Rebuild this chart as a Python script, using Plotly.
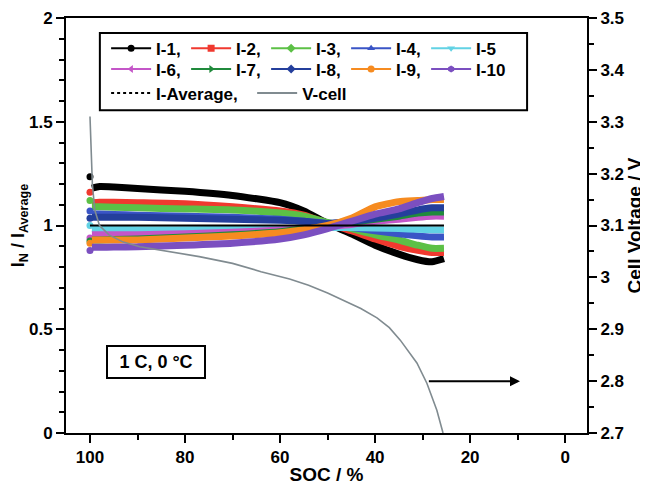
import plotly.graph_objects as go

# ---------------- data ----------------
soc = [100, 99.6, 98, 95, 90, 80, 70, 60, 55, 50, 45, 40, 35, 31, 28, 25.5]

i1 = [1.235, 1.18, 1.188, 1.186, 1.178, 1.165, 1.145, 1.11, 1.07, 1.01, 0.96, 0.905, 0.862, 0.835, 0.825, 0.84]
i2 = [1.16, 1.11, 1.112, 1.112, 1.11, 1.105, 1.09, 1.07, 1.05, 1.01, 0.975, 0.935, 0.90, 0.88, 0.87, 0.87]
i3 = [1.12, 1.09, 1.09, 1.088, 1.085, 1.08, 1.075, 1.06, 1.045, 1.015, 0.985, 0.955, 0.93, 0.905, 0.89, 0.89]
i4 = [1.07, 1.055, 1.055, 1.053, 1.05, 1.045, 1.04, 1.03, 1.02, 1.01, 0.99, 0.975, 0.96, 0.95, 0.945, 0.945]
i5 = [1.00, 0.985, 0.984, 0.982, 0.98, 0.98, 0.982, 0.985, 0.985, 0.99, 0.99, 0.988, 0.985, 0.982, 0.98, 0.98]
i6 = [0.94, 0.955, 0.955, 0.955, 0.955, 0.96, 0.968, 0.978, 0.985, 0.995, 1.005, 1.02, 1.03, 1.04, 1.045, 1.045]
i7 = [0.925, 0.93, 0.93, 0.932, 0.935, 0.945, 0.955, 0.97, 0.985, 1.0, 1.015, 1.03, 1.045, 1.06, 1.065, 1.065]
i8 = [1.035, 1.04, 1.04, 1.04, 1.04, 1.035, 1.03, 1.025, 1.02, 1.01, 1.02, 1.035, 1.055, 1.075, 1.085, 1.085]
i9 = [0.915, 0.93, 0.93, 0.93, 0.93, 0.94, 0.95, 0.965, 0.98, 1.0, 1.035, 1.09, 1.115, 1.12, 1.125, 1.125]
i10 = [0.88, 0.895, 0.895, 0.896, 0.897, 0.905, 0.915, 0.935, 0.955, 0.985, 1.02, 1.055, 1.08, 1.11, 1.13, 1.14]

soc_avg = [100, 25.5]
i_avg = [1.0, 1.0]

soc_v = [100, 99.8, 99.5, 99, 98, 96, 93, 89.5, 84, 77, 70, 64, 58, 54, 50,
         46.7, 43, 39.6, 37, 34.7, 33, 31.2, 29.1, 27, 25.7]
v_cell = [3.31, 3.25, 3.18, 3.13, 3.10, 3.082, 3.068, 3.059, 3.050, 3.040, 3.027, 3.011, 2.997, 2.985, 2.970,
          2.956, 2.940, 2.922, 2.903, 2.879, 2.858, 2.835, 2.796, 2.744, 2.70]

names = ["I-1,", "I-2,", "I-3,", "I-4,", "I-5", "I-6,", "I-7,", "I-8,", "I-9,", "I-10"]
series = [i1, i2, i3, i4, i5, i6, i7, i8, i9, i10]
colors = ["#000000", "#f0392f", "#5cc046", "#3a55c6", "#62d2e4",
          "#c456c8", "#208a3c", "#243f9c", "#f68b20", "#7b4fc0"]
symbols = ["circle", "square", "diamond", "triangle-up", "triangle-down",
           "triangle-left", "triangle-right", "diamond", "circle", "hexagon"]

FONT = "Liberation Sans, Arial, sans-serif"

fig = go.Figure()

for n, y, c in zip(names, series, colors):
    # the first reading (at 100 % SOC) is shown as a separate dot, the rest as a dense band
    fig.add_trace(go.Scatter(x=soc[1:], y=y[1:], mode="lines", showlegend=False,
                             line=dict(color=c, width=7, shape="spline", smoothing=0.5)))
    fig.add_trace(go.Scatter(x=soc[:1], y=y[:1], mode="markers", showlegend=False,
                             marker=dict(color=c, size=7, symbol="circle")))

fig.add_trace(go.Scatter(x=soc_avg, y=i_avg, mode="lines", showlegend=False,
                         line=dict(color="#000000", width=2)))
fig.add_trace(go.Scatter(x=soc_v, y=v_cell, mode="lines", showlegend=False, yaxis="y2",
                         line=dict(color="#808b90", width=1.6)))

# legend entries
for k, (n, c, s) in enumerate(zip(names, colors, symbols)):
    fig.add_trace(go.Scatter(x=[None], y=[None], mode="lines+markers", name=n,
                             legend="legend" if k < 5 else "legend2",
                             line=dict(color=c, width=2), marker=dict(symbol=s, size=7, color=c)))
fig.add_trace(go.Scatter(x=[None], y=[None], mode="lines", name="I-Average,\u00a0\u00a0", legend="legend3",
                         line=dict(color="#000000", width=2, dash="dot")))
fig.add_trace(go.Scatter(x=[None], y=[None], mode="lines", name="V-cell", legend="legend3",
                         line=dict(color="#808b90", width=2)))

leg_common = dict(orientation="h", xanchor="left", yanchor="middle", x=0.077,
                  font=dict(family=FONT, size=17, color="#000", weight="bold"),
                  bgcolor="rgba(0,0,0,0)", borderwidth=0, itemwidth=40,
                  itemclick=False, itemdoubleclick=False)

axis_font = dict(family=FONT, size=17, color="#000", weight="bold")
title_font = dict(family=FONT, size=18, color="#000", weight="bold")

fig.update_layout(
    width=640, height=477,
    margin=dict(l=58, r=61, t=10, b=52, autoexpand=False),
    paper_bgcolor="white", plot_bgcolor="white",
    showlegend=True,
    legend=dict(**leg_common, y=0.926, entrywidth=25),
    legend2=dict(**leg_common, y=0.876, entrywidth=25),
    legend3=dict(**leg_common, y=0.818),
    xaxis=dict(range=[105.05, -4.6], tickmode="linear", tick0=0, dtick=20, automargin=False,
               ticks="outside", ticklen=8, tickwidth=2, tickcolor="#000",
               showline=True, linewidth=2, linecolor="#000", mirror=True,
               showgrid=False, zeroline=False, tickfont=axis_font,
               title=dict(text="SOC / %", font=dict(family=FONT, size=19, color="#000", weight="bold"),
                          standoff=2),
               minor=dict(ticks="outside", ticklen=5, tickwidth=2, tickcolor="#000", dtick=10, tick0=0)),
    yaxis=dict(range=[0, 2], tickmode="linear", tick0=0, dtick=0.5, automargin=False,
               ticks="outside", ticklen=8, tickwidth=2, tickcolor="#000",
               showline=True, linewidth=2, linecolor="#000",
               showgrid=False, zeroline=False, tickfont=axis_font,
               title=dict(text="I<sub>N</sub> / I<sub>Average</sub>", font=title_font, standoff=6),
               minor=dict(ticks="outside", ticklen=5, tickwidth=2, tickcolor="#000", dtick=0.1, tick0=0)),
    yaxis2=dict(range=[2.7, 3.5], overlaying="y", side="right", tickmode="linear", tick0=2.7, dtick=0.1,
                automargin=False,
                ticks="outside", ticklen=8, tickwidth=2, tickcolor="#000",
                showline=True, linewidth=2, linecolor="#000",
                showgrid=False, zeroline=False, tickfont=axis_font,
                title=dict(text="Cell Voltage / V", font=dict(family=FONT, size=19, color="#000", weight="bold"),
                           standoff=1),
                minor=dict(ticks="outside", ticklen=5, tickwidth=2, tickcolor="#000", dtick=0.05, tick0=2.7)),
    shapes=[dict(type="rect", xref="paper", yref="paper", x0=0.065, x1=0.885, y0=0.778, y1=0.964,
                 line=dict(color="#000", width=2), layer="above")],
    annotations=[
        dict(x=86.1, y=0.342, xref="x", yref="y", text="1 C, 0 °C", showarrow=False,
             font=dict(family=FONT, size=18, color="#000", weight="bold"),
             width=92, height=26, align="center", valign="middle",
             bordercolor="#000", borderwidth=2, borderpad=2, bgcolor="white"),
        dict(x=9.5, y=0.25, xref="x", yref="y", ax=29, ay=0.25, axref="x", ayref="y",
             text="", showarrow=True, arrowhead=2, arrowsize=1, arrowwidth=2, arrowcolor="#000"),
    ],
)

fig.write_html("out.html")
